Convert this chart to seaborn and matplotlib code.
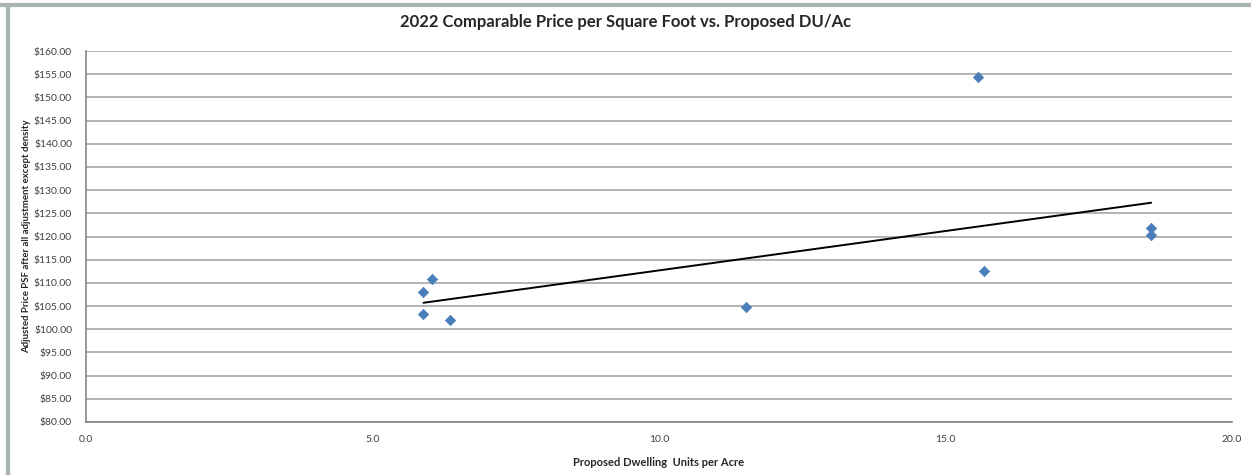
import matplotlib

matplotlib.use("Agg")
import matplotlib.pyplot as plt
import pandas as pd
import seaborn as sns
from matplotlib.lines import Line2D
from matplotlib.ticker import FuncFormatter, MultipleLocator

# Comparable sales: proposed density vs adjusted price per square foot
du_per_acre = [6.04, 5.89, 5.89, 6.36, 11.52, 15.57, 15.68, 18.59, 18.59]
adj_price_psf = [110.8, 108.0, 103.3, 102.1, 104.7, 154.5, 112.6, 121.9, 120.3]

title = "2022 Comparable Price per Square Foot vs. Proposed DU/Ac"
x_label = "Proposed Dwelling  Units per Acre"
y_label = "Adjusted Price PSF after all adjustment except density"

df = pd.DataFrame({"du": du_per_acre, "price": adj_price_psf})

sns.set_style("white")
plt.rcParams["font.family"] = ["Lato", "DejaVu Sans"]

fig = plt.figure(figsize=(12.51, 4.75), dpi=100)
ax = fig.add_axes([86 / 1251, 1 - 422 / 475, (1232 - 86) / 1251, (422 - 51) / 475])

# Excel-style horizontal gridlines
ax.set_ylim(80, 160)
ax.set_xlim(0, 20)
ax.yaxis.set_major_locator(MultipleLocator(5))
ax.xaxis.set_major_locator(MultipleLocator(5))
ax.xaxis.set_minor_locator(MultipleLocator(1))
ax.grid(axis="y", color="#a6a6a6", linewidth=1.2)
ax.set_axisbelow(True)

# linear trendline over the data range
sns.regplot(
    data=df,
    x="du",
    y="price",
    ci=None,
    scatter=False,
    truncate=True,
    color="black",
    line_kws={"linewidth": 1.4},
    ax=ax,
)
sns.scatterplot(
    data=df,
    x="du",
    y="price",
    marker="D",
    s=28,
    color="#4a7ebb",
    edgecolor="#4a7ebb",
    linewidth=0.5,
    zorder=3,
    ax=ax,
)

for side in ("top", "right"):
    ax.spines[side].set_visible(False)
for side in ("left", "bottom"):
    ax.spines[side].set_color("#868686")
    ax.spines[side].set_linewidth(1.2)

ax.yaxis.set_major_formatter(FuncFormatter(lambda v, _: f"${v:,.2f}"))
ax.xaxis.set_major_formatter(FuncFormatter(lambda v, _: f"{v:.1f}"))
ax.tick_params(axis="y", length=0, labelsize=7.5, colors="#404040", pad=10)
ax.tick_params(axis="x", which="major", direction="inout", length=7, width=1,
               color="#868686", labelsize=7.5, labelcolor="#404040", pad=6)
ax.tick_params(axis="x", which="minor", direction="in", length=3, width=0.8,
               color="#868686")

ax.set_xlabel(x_label, fontsize=8, fontweight="bold", labelpad=9)
ax.set_ylabel(y_label, fontsize=6.9, fontweight="bold", labelpad=2)
fig.text(0.5, 1 - 22 / 475, title, ha="center", va="center",
         fontsize=12, fontweight="bold")

# chart frame remnants (top and left edge)
fig.add_artist(Line2D([0, 1], [1 - 5 / 475] * 2, color="#a9b4b4", linewidth=3,
                      transform=fig.transFigure))
fig.add_artist(Line2D([8 / 1251] * 2, [0, 1 - 5 / 475], color="#a9b4b4",
                      linewidth=3, transform=fig.transFigure))

fig.savefig("out.png", dpi=100, facecolor="white")
